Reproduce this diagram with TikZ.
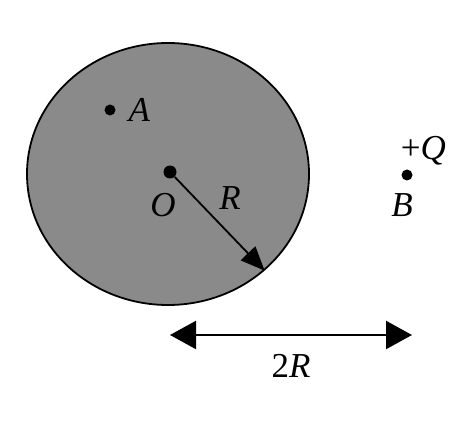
\documentclass[tikz,border=0pt]{standalone}
\usepackage{fontspec}
\setmainfont{Liberation Serif}
\usetikzlibrary{arrows.meta,positioning,shapes.geometric}

\begin{document}
\begin{tikzpicture}[x=1pt,y=-1pt,thick,node distance=6pt,
                dot/.style={circle,fill=black,inner sep=0pt,minimum size=11pt},
                lbl/.style={font=\fontsize{35}{40}\selectfont},
                big arrow/.style={{Triangle[length=26pt,width=28pt]}-{Triangle[length=26pt,width=28pt]},line width=2.2pt}]
	\useasboundingbox (0,0) rectangle (474,425);
	\node[ellipse,draw,line width=1.8pt,fill=black!46,minimum width=282pt,minimum height=262pt] (sphere) at (168,174) {};
	\node[dot,minimum size=13pt] (O) at (170,172) {};
	\node[dot] (A) at (110,110) {};
	\node[dot] (B) at (407,175) {};
	\coordinate (left) at (170,335);
	\coordinate (right) at (412,335);
	\coordinate (mid) at (291,335);

	\node[lbl] (Alabel) [right=9pt of A] {\textit{A}};
	\node[lbl] (Olabel) [below=11pt of O,xshift=-7pt] {\textit{O}};
	\node[lbl] (Rlabel) at (230,198) {\textit{R}};
	\node[lbl] (Qlabel) [above right=2pt and -14pt of B] {+\textit{Q}};
	\node[lbl] (Blabel) [below=9pt of B,xshift=-5pt] {\textit{B}};
	\node[lbl] (dist) [below=16pt of mid] {2\textit{R}};

	\draw[-{Triangle[length=24pt,width=20pt]},line width=1.8pt] (O) -- (sphere.-45);
	\draw[big arrow] (left) -- (right);
\end{tikzpicture}
\end{document}
